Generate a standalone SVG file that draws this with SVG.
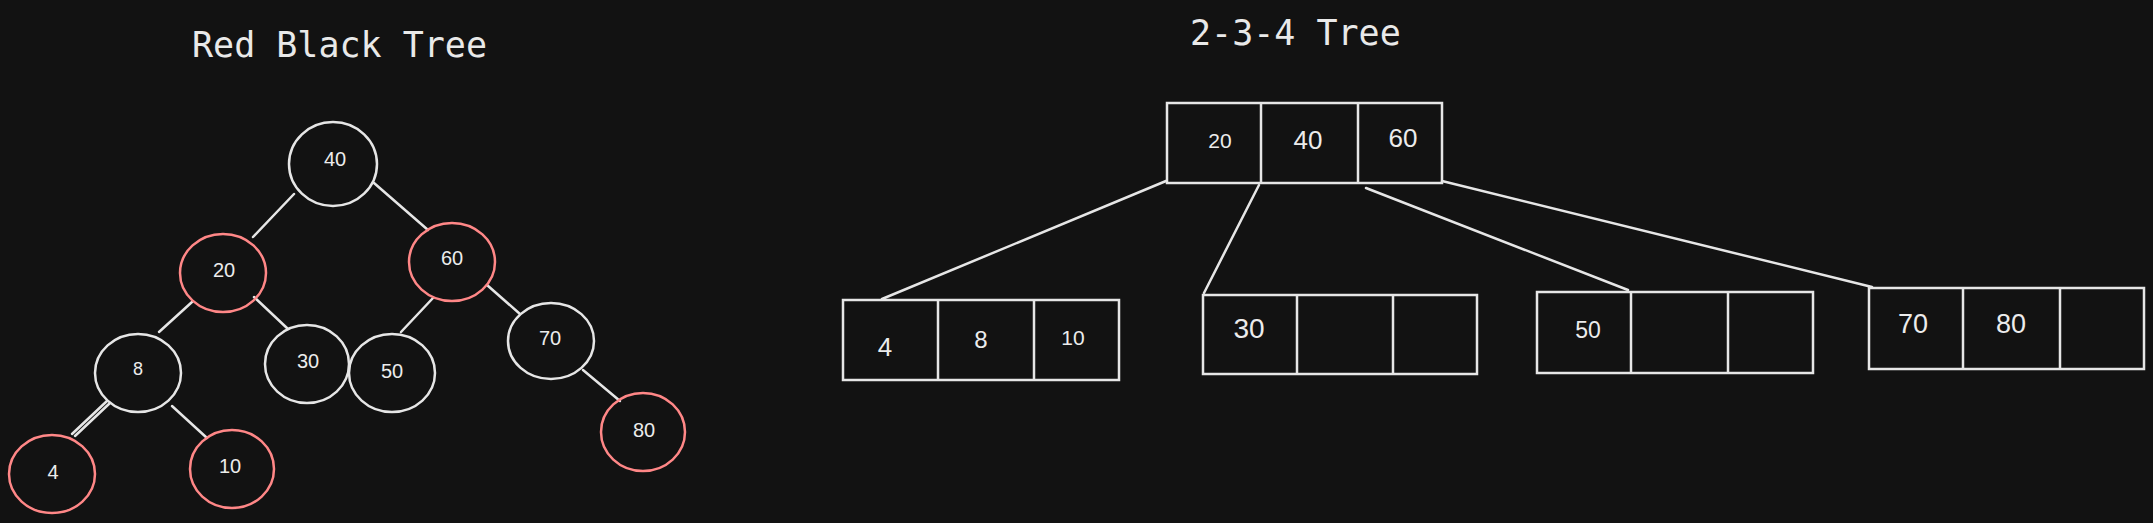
<svg xmlns="http://www.w3.org/2000/svg" width="2153" height="523" viewBox="0 0 2153 523">
<defs>
<style>
.bg{fill:#121212}
.title{font-family:"DejaVu Sans Mono","Liberation Mono",monospace;font-size:35px;fill:#e9e9e9}
.lbl{font-family:"Liberation Sans","Noto Sans",sans-serif;fill:#ececec;text-anchor:middle;dominant-baseline:central}
.blk{fill:none;stroke:#e6e6e6;stroke-width:2.5}
.red{fill:none;stroke:#ff8787;stroke-width:2.5}
.edge{fill:none;stroke:#e6e6e6;stroke-width:2.5;stroke-linecap:round}
.box{fill:none;stroke:#e6e6e6;stroke-width:2.5}
</style>
</defs>
<rect class="bg" x="0" y="0" width="2153" height="523"/>
<text class="title" x="192" y="57">Red Black Tree</text>
<text class="title" x="1190" y="45">2-3-4 Tree</text>

<g id="rbt-connectors">
<line class="edge" x1="294" y1="194" x2="253" y2="237"/>
<line class="edge" x1="374" y1="183" x2="428" y2="230"/>
<line class="edge" x1="192" y1="302" x2="159" y2="332"/>
<line class="edge" x1="254" y1="297" x2="288" y2="329"/>
<line class="edge" x1="433" y1="298" x2="401" y2="332"/>
<line class="edge" x1="487" y1="285" x2="520" y2="314"/>
<line class="edge" x1="107" y1="401" x2="72" y2="434"/>
<line class="edge" x1="110" y1="403" x2="75" y2="436"/>
<line class="edge" x1="172" y1="406" x2="207" y2="438"/>
<line class="edge" x1="583" y1="370" x2="620" y2="401"/>
</g>

<g id="rbt-40"><ellipse class="blk" cx="333" cy="164" rx="44" ry="42"/><text class="lbl" x="335" y="159" font-size="20">40</text></g>
<g id="rbt-20"><ellipse class="red" cx="223" cy="273" rx="43" ry="39"/><text class="lbl" x="224" y="270" font-size="20">20</text></g>
<g id="rbt-60"><ellipse class="red" cx="452" cy="262" rx="43" ry="39"/><text class="lbl" x="452" y="258" font-size="20">60</text></g>
<g id="rbt-8"><ellipse class="blk" cx="138" cy="373" rx="43" ry="39"/><text class="lbl" x="138" y="369" font-size="18">8</text></g>
<g id="rbt-30"><ellipse class="blk" cx="307" cy="364" rx="42" ry="39"/><text class="lbl" x="308" y="361" font-size="20">30</text></g>
<g id="rbt-50"><ellipse class="blk" cx="392" cy="373" rx="43" ry="39"/><text class="lbl" x="392" y="371" font-size="20">50</text></g>
<g id="rbt-70"><ellipse class="blk" cx="551" cy="341" rx="43" ry="38"/><text class="lbl" x="550" y="338" font-size="20">70</text></g>
<g id="rbt-4"><ellipse class="red" cx="52" cy="474" rx="43" ry="39"/><text class="lbl" x="53" y="472" font-size="20">4</text></g>
<g id="rbt-10"><ellipse class="red" cx="232" cy="469" rx="42" ry="39"/><text class="lbl" x="230" y="466" font-size="20">10</text></g>
<g id="rbt-80"><ellipse class="red" cx="643" cy="432" rx="42" ry="39"/><text class="lbl" x="644" y="430" font-size="20">80</text></g>

<g id="t234-connectors">
<line class="edge" x1="1166" y1="181" x2="882" y2="299"/>
<line class="edge" x1="1259" y1="185" x2="1204" y2="293"/>
<line class="edge" x1="1366" y1="188" x2="1628" y2="290"/>
<line class="edge" x1="1442" y1="181" x2="1872" y2="287"/>
</g>

<g id="t234-root">
<rect class="box" x="1167" y="103" width="275" height="80"/>
<line class="box" x1="1261" y1="103" x2="1261" y2="183"/>
<line class="box" x1="1358" y1="103" x2="1358" y2="183"/>
<text class="lbl" x="1220" y="140" font-size="21">20</text>
<text class="lbl" x="1308" y="140" font-size="26">40</text>
<text class="lbl" x="1403" y="138" font-size="26">60</text>
</g>
<g id="t234-a">
<rect class="box" x="843" y="300" width="276" height="80"/>
<line class="box" x1="938" y1="300" x2="938" y2="380"/>
<line class="box" x1="1034" y1="300" x2="1034" y2="380"/>
<text class="lbl" x="885" y="347" font-size="26">4</text>
<text class="lbl" x="981" y="339" font-size="24">8</text>
<text class="lbl" x="1073" y="337" font-size="21">10</text>
</g>
<g id="t234-b">
<rect class="box" x="1203" y="295" width="274" height="79"/>
<line class="box" x1="1297" y1="295" x2="1297" y2="374"/>
<line class="box" x1="1393" y1="295" x2="1393" y2="374"/>
<text class="lbl" x="1249" y="328" font-size="28">30</text>
</g>
<g id="t234-c">
<rect class="box" x="1537" y="292" width="276" height="81"/>
<line class="box" x1="1631" y1="292" x2="1631" y2="373"/>
<line class="box" x1="1728" y1="292" x2="1728" y2="373"/>
<text class="lbl" x="1588" y="330" font-size="23">50</text>
</g>
<g id="t234-d">
<rect class="box" x="1869" y="288" width="275" height="81"/>
<line class="box" x1="1963" y1="288" x2="1963" y2="369"/>
<line class="box" x1="2060" y1="288" x2="2060" y2="369"/>
<text class="lbl" x="1913" y="324" font-size="27">70</text>
<text class="lbl" x="2011" y="324" font-size="27">80</text>
</g>
</svg>
